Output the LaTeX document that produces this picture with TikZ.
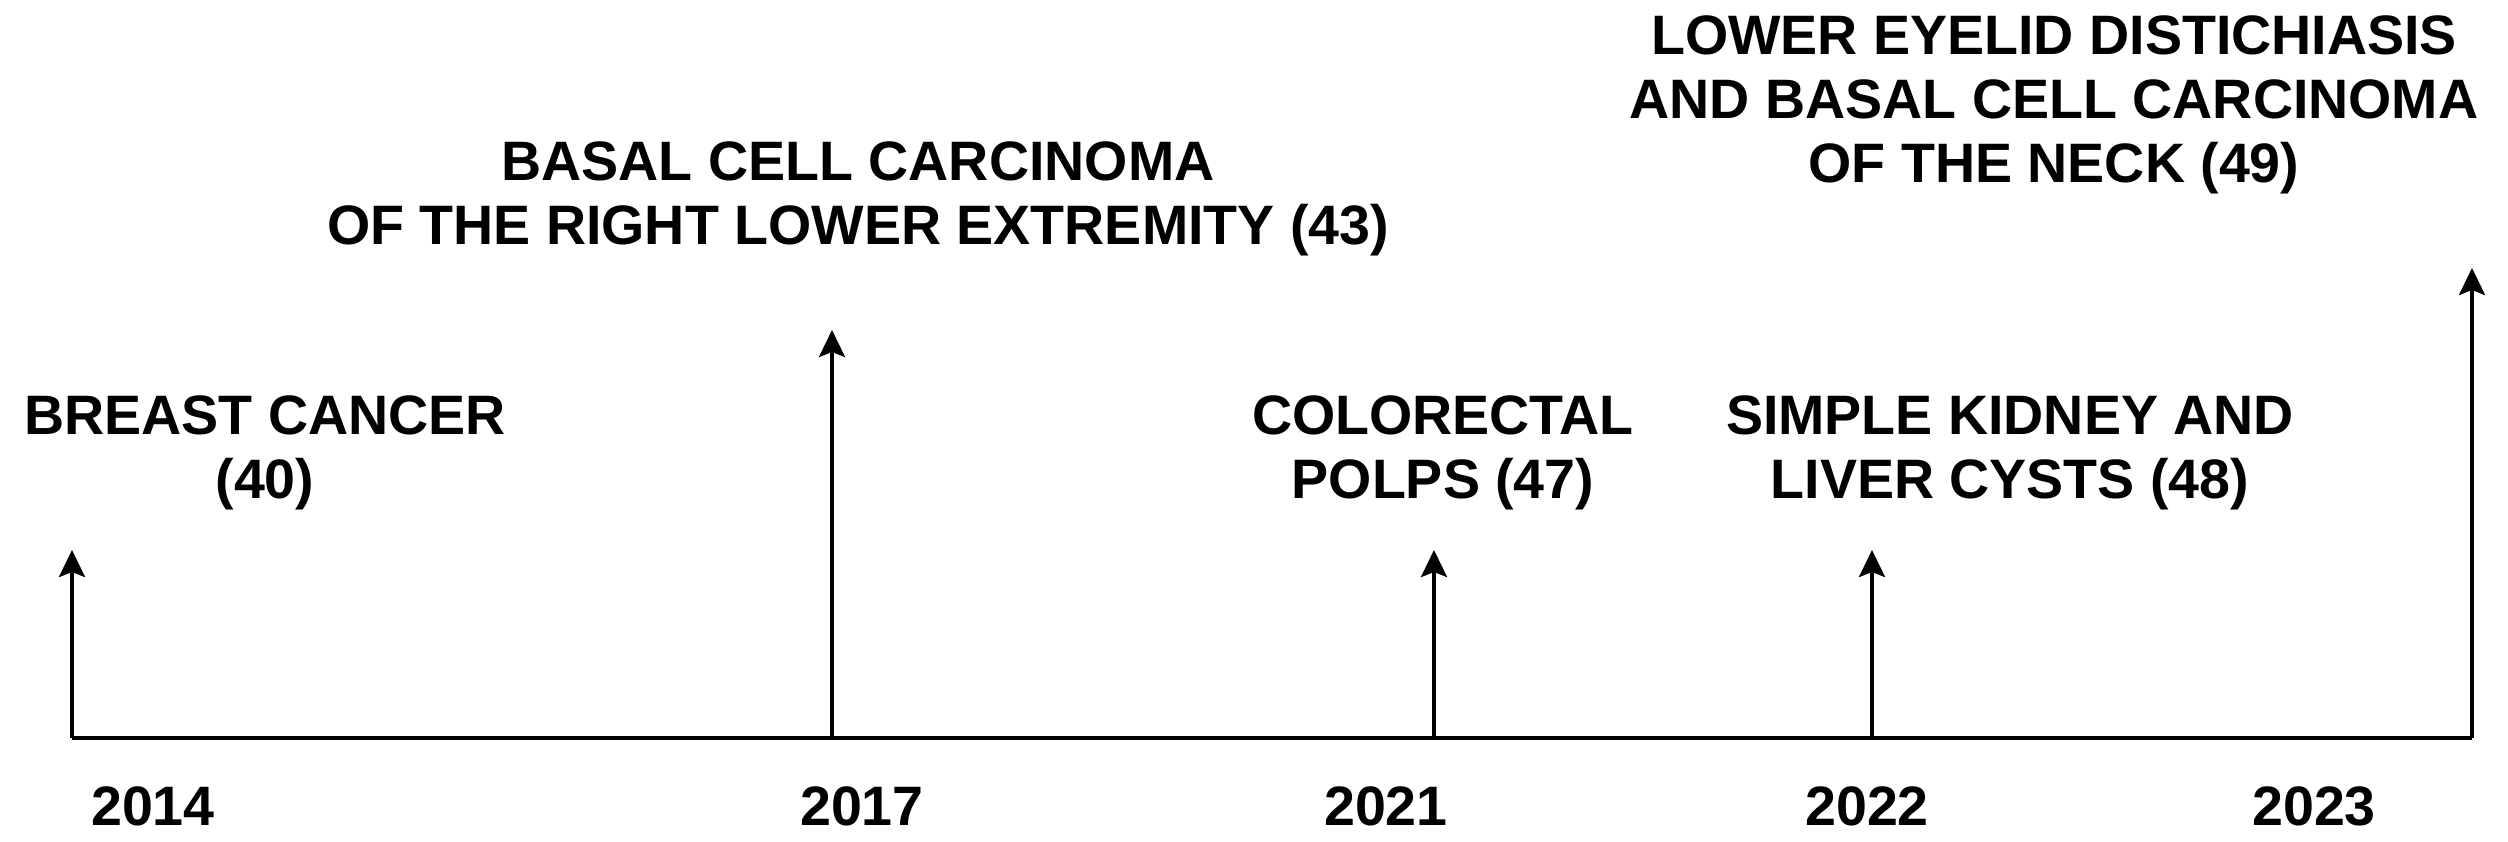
\documentclass[tikz,border=0pt]{standalone}
\usepackage{fontspec}
\setmainfont{Liberation Sans}
\usetikzlibrary{arrows.meta}
\begin{document}
\begin{tikzpicture}[x=0.01cm,y=-0.01cm,
  axisline/.style={line width=1pt,black},
  eventarrow/.style={line width=1pt,black,-{Stealth[length=0.27cm,width=0.26cm,inset=0.05cm]}},
  eventlabel/.style={inner sep=0pt,align=center,font=\fontsize{15.8pt}{18.2pt}\selectfont\bfseries},
  yearlabel/.style={inner sep=0pt,font=\fontsize{15.8pt}{19pt}\selectfont\bfseries}]
\useasboundingbox (0,0) rectangle (2508,841);
% baseline points
\coordinate (b1) at (72,738);
\coordinate (b2) at (832,738);
\coordinate (b3) at (1434,738);
\coordinate (b4) at (1872,738);
\coordinate (b5) at (2472,738);
% arrow tips
\coordinate (t1) at (72,550);
\coordinate (t2) at (832,330);
\coordinate (t3) at (1434,550);
\coordinate (t4) at (1872,550);
\coordinate (t5) at (2472,268);
\draw[axisline] (b1) -- (b5);
\foreach \i in {1,...,5} \draw[eventarrow] (b\i) -- (t\i);
% years
\node[yearlabel] (y1) at (153,806) {2014};
\node[yearlabel] (y2) at (862,806) {2017};
\node[yearlabel] (y3) at (1386,806) {2021};
\node[yearlabel] (y4) at (1867,806) {2022};
\node[yearlabel] (y5) at (2314,806) {2023};
% events
\node[eventlabel] (e1) at (265,453) {BREAST CANCER\\(40)};
\node[eventlabel] (e2) at (858,199) {BASAL CELL CARCINOMA\\OF THE RIGHT LOWER EXTREMITY (43)};
\node[eventlabel] (e3) at (1443,453) {COLORECTAL\\POLPS (47)};
\node[eventlabel] (e4) at (2010,453) {SIMPLE KIDNEY AND\\LIVER CYSTS (48)};
\node[eventlabel] (e5) at (2054,105) {LOWER EYELID DISTICHIASIS\\AND BASAL CELL CARCINOMA\\OF THE NECK (49)};
\end{tikzpicture}
\end{document}
